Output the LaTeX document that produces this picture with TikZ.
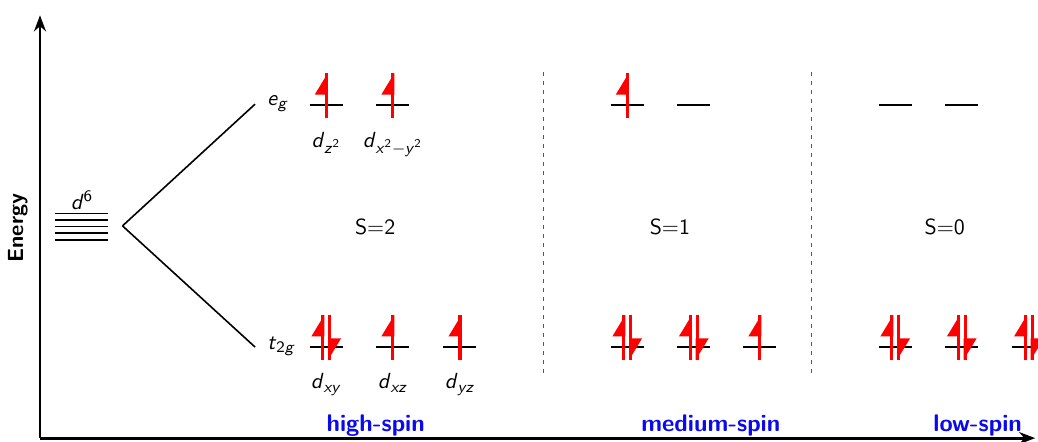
\documentclass[tikz,border=0pt,11pt]{standalone}
\usepackage{xcolor}
\usepackage{tikz}
\usetikzlibrary{arrows.meta, positioning}
\renewcommand{\familydefault}{\sfdefault}
\definecolor{spinred}{RGB}{255, 0, 0}
\definecolor{spinblue}{RGB}{10, 10, 235}
\tikzstyle{axis} = [
    line width=1.4pt,
    -{Stealth[length=8pt, width=6pt]}
]
\tikzstyle{level} = [thick, black]
\tikzstyle{splitline} = [thick, black]
\tikzstyle{spinshaft} = [ultra thick, color=spinred]
\tikzstyle{spin} = [
    ultra thick,
    color=spinred,
    -{Triangle[left, length=9.5pt, width=11pt]}
]
\tikzstyle{divider} = [thin, color=black!65, dash pattern=on 2pt off 2.5pt]
\tikzstyle{orblabel} = [inner sep=0pt]
\tikzstyle{spinlabel} = [font=\large\bfseries, text=spinblue, anchor=base]

% italic orbital names
\newcommand{\orbit}[1]{\textit{#1}}
% one orbital level: name, x, y
\newcommand{\orbital}[3]{%
    \coordinate (#1) at (#2, #3);
    \draw[level] ([xshift=-0.29cm]#1) -- ([xshift=0.29cm]#1);
}
% single electron
\newcommand{\spinup}[1]{%
    \draw[spinshaft] ([yshift=-0.23cm]#1) -- ([yshift=0.57cm]#1);
    \draw[spin] ([yshift=-0.23cm]#1) -- ([yshift=0.57cm]#1);
}
% paired electrons
\newcommand{\spinpair}[1]{%
    \draw[spinshaft] ([xshift=-0.06cm, yshift=-0.23cm]#1) -- ([xshift=-0.06cm, yshift=0.57cm]#1);
    \draw[spin] ([xshift=-0.06cm, yshift=-0.23cm]#1) -- ([xshift=-0.06cm, yshift=0.57cm]#1);
    \draw[spinshaft] ([xshift=0.06cm, yshift=0.57cm]#1) -- ([xshift=0.06cm, yshift=-0.23cm]#1);
    \draw[spin] ([xshift=0.06cm, yshift=0.57cm]#1) -- ([xshift=0.06cm, yshift=-0.23cm]#1);
}

\begin{document}
\begin{tikzpicture}
        \useasboundingbox (-0.703, -0.053) rectangle (17.54, 7.70);

        % Axes
        \coordinate (origin) at (0, 0);
        \coordinate (ytop) at (0, 7.43);
        \coordinate (xend) at (17.49, 0);
        \draw[axis] (origin) -- (ytop);
        \draw[axis] (origin) -- (xend);
        \node[rotate=90, font=\bfseries] (energy) at (-0.39, 3.69) {Energy};

        % Free ion d6
        \draw[level] (0.26, 3.95) -- (1.20, 3.95);
        \draw[level] (0.26, 3.83) -- (1.20, 3.83);
        \draw[level] (0.26, 3.72) -- (1.20, 3.72);
        \draw[level] (0.26, 3.60) -- (1.20, 3.60);
        \draw[level] (0.26, 3.48) -- (1.20, 3.48);
        \node[anchor=south, inner sep=1pt] (dsix) at (0.74, 3.97) {\orbit{d}\textsuperscript{6}};

        % Splitting
        \coordinate (split) at (1.45, 3.73);
        \node[anchor=base west] (eg) at (3.86, 5.85) {\orbit{e}\textsubscript{\orbit{g}}};
        \node[anchor=base west] (tg) at (3.86, 1.56) {\orbit{t}\textsubscript{2\orbit{g}}};
        \draw[splitline] (split) -- ([xshift=-0.08cm, yshift=0.02cm]eg.base west);
        \draw[splitline] (split) -- ([xshift=-0.08cm, yshift=0.04cm]tg.base west);

        % High-spin
        \orbital{hs-eg1}{5.03}{5.85}
        \orbital{hs-eg2}{6.20}{5.85}
        \orbital{hs-t1}{5.03}{1.60}
        \orbital{hs-t2}{6.20}{1.60}
        \orbital{hs-t3}{7.38}{1.60}
        \spinup{hs-eg1}
        \spinup{hs-eg2}
        \spinpair{hs-t1}
        \spinup{hs-t2}
        \spinup{hs-t3}
        \node[orblabel, below=0.46cm of hs-eg1] (dz) {\orbit{d}\textsubscript{\orbit{z}\textsuperscript{2}}};
        \node[orblabel, below=0.46cm of hs-eg2] (dxy2) {\orbit{d}\textsubscript{\orbit{x}\textsuperscript{2}$-$\orbit{y}\textsuperscript{2}}};
        \node[orblabel, below=0.46cm of hs-t1] (dxy) {\orbit{d}\textsubscript{\orbit{xy}}};
        \node[orblabel, below=0.46cm of hs-t2] (dxz) {\orbit{d}\textsubscript{\orbit{xz}}};
        \node[orblabel, below=0.46cm of hs-t3] (dyz) {\orbit{d}\textsubscript{\orbit{yz}}};
        \node (shs) at (5.89, 3.72) {S=2};
        \node[spinlabel] (hs) at (5.90, 0.12) {high-spin};

        % Dividers
        \draw[divider] (8.84, 6.43) -- (8.84, 1.11);
        \draw[divider] (13.55, 6.43) -- (13.55, 1.11);

        % Medium-spin
        \orbital{ms-eg1}{10.32}{5.85}
        \orbital{ms-eg2}{11.49}{5.85}
        \orbital{ms-t1}{10.32}{1.60}
        \orbital{ms-t2}{11.49}{1.60}
        \orbital{ms-t3}{12.65}{1.60}
        \spinup{ms-eg1}
        \spinpair{ms-t1}
        \spinpair{ms-t2}
        \spinup{ms-t3}
        \node (sms) at (11.07, 3.72) {S=1};
        \node[spinlabel] (ms) at (11.79, 0.12) {medium-spin};

        % Low-spin
        \orbital{ls-eg1}{15.03}{5.85}
        \orbital{ls-eg2}{16.20}{5.85}
        \orbital{ls-t1}{15.03}{1.60}
        \orbital{ls-t2}{16.20}{1.60}
        \orbital{ls-t3}{17.38}{1.60}
        \spinpair{ls-t1}
        \spinpair{ls-t2}
        \spinpair{ls-t3}
        \node (sls) at (15.90, 3.72) {S=0};
        \node[spinlabel] (ls) at (16.48, 0.12) {low-spin};
    \end{tikzpicture}
\end{document}
